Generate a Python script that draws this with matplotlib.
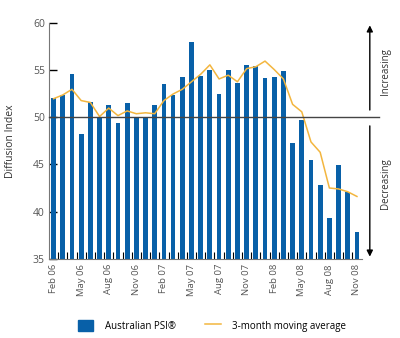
import matplotlib.pyplot as plt
from matplotlib.patches import Patch
from matplotlib.lines import Line2D
import numpy as np

plt.rcParams['font.family'] = ['Open Sans', 'DejaVu Sans']

# monthly data, Feb 06 - Nov 08
months = ['Feb 06', 'Mar 06', 'Apr 06', 'May 06', 'Jun 06', 'Jul 06', 'Aug 06', 'Sep 06',
          'Oct 06', 'Nov 06', 'Dec 06', 'Jan 07', 'Feb 07', 'Mar 07', 'Apr 07', 'May 07',
          'Jun 07', 'Jul 07', 'Aug 07', 'Sep 07', 'Oct 07', 'Nov 07', 'Dec 07', 'Jan 08',
          'Feb 08', 'Mar 08', 'Apr 08', 'May 08', 'Jun 08', 'Jul 08', 'Aug 08', 'Sep 08',
          'Oct 08', 'Nov 08']
psi = [52.1, 52.4, 54.6, 48.2, 51.7, 50.0, 51.3, 49.4, 51.5, 50.0, 50.0, 51.3,
       53.6, 52.4, 54.3, 58.0, 54.4, 55.1, 52.5, 55.0, 53.7, 55.6, 55.5, 54.2,
       54.3, 54.9, 47.3, 49.7, 45.5, 42.8, 39.3, 44.9, 42.1, 37.8]
moving_avg = [52.0, 52.4, 53.0, 51.8, 51.6, 50.1, 51.0, 50.2, 50.7, 50.4, 50.5, 50.4,
              51.8, 52.5, 53.0, 53.8, 54.6, 55.6, 54.1, 54.5, 53.8, 55.2, 55.4, 56.0,
              55.1, 54.1, 51.4, 50.6, 47.4, 46.3, 42.5, 42.4, 42.1, 41.6]
tick_labels = months[::3]

bar_color = '#0860a8'
line_color = '#f3b63f'
grey = '#555555'

fig = plt.figure(figsize=(4.0, 3.38), dpi=100)
ax = fig.add_axes([0.1225, 0.2352, 0.7825, 0.6953])

x = np.arange(len(months))
ax.bar(x, np.array(psi) - 35, bottom=35, width=0.52, color=bar_color, zorder=2)
ax.plot(x, moving_avg, color=line_color, linewidth=1.1, zorder=3)

ax.set_xlim(-0.5, 33.55)
ax.set_ylim(35, 60)

# axes look
for s in ['top', 'right']:
    ax.spines[s].set_visible(False)
ax.spines['left'].set_color('#777777')
ax.spines['bottom'].set_color('#777777')
ax.spines['left'].set_bounds(35, 60)

ax.set_yticks([35, 40, 45, 50, 55, 60])
ax.tick_params(axis='y', direction='in', length=6, width=1, colors='black',
               labelcolor=grey, labelsize=7.5, pad=3)
ax.set_xticks(x[::3])
ax.set_xticklabels(tick_labels, rotation=90)
ax.set_xticks(x[:-1] + 0.5, minor=True)
ax.tick_params(axis='x', which='major', length=0, labelcolor=grey, labelsize=6.8, pad=4)
ax.tick_params(axis='x', which='minor', direction='in', length=5, width=0.8, colors='black')

ax.set_ylabel('Diffusion Index', fontsize=7.5, color='#333333', labelpad=12)

# the 50 line running past the plot
ax.axhline(50, xmin=0, xmax=1.054, color='#444444', linewidth=1, clip_on=False, zorder=4)

# increasing / decreasing arrows
ax.annotate('', xy=(34.4, 60.1), xytext=(34.4, 50.5), annotation_clip=False,
            arrowprops=dict(arrowstyle='-|>', color='black', lw=1, mutation_scale=9))
ax.annotate('', xy=(34.4, 34.9), xytext=(34.4, 49.4), annotation_clip=False,
            arrowprops=dict(arrowstyle='-|>', color='black', lw=1, mutation_scale=9))
ax.text(36.1, 54.9, 'Increasing', rotation=90, ha='center', va='center',
        fontsize=7, color='#333333', clip_on=False)
ax.text(36.1, 43.0, 'Decreasing', rotation=90, ha='center', va='center',
        fontsize=7, color='#333333', clip_on=False)

handles = [Patch(color=bar_color), Line2D([], [], color=line_color, linewidth=1.1)]
fig.legend(handles, ['Australian PSI\u00ae', '3-month moving average'], ncol=2,
           loc='center', bbox_to_anchor=(0.53, 0.036), frameon=False, fontsize=7,
           handlelength=1.6, handleheight=1.4, columnspacing=3.0, handletextpad=1.2)

fig.savefig('out.png', dpi=100)
